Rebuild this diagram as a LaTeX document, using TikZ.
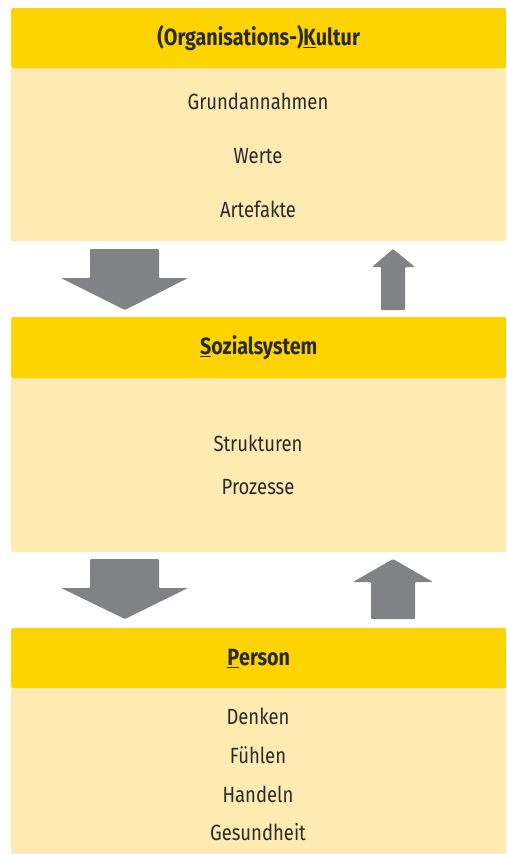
\documentclass[tikz,border=0pt]{standalone}
\usepackage{fontspec}
\setmainfont{Fira Sans}[FakeStretch=0.84]
\usepackage{xcolor}

\definecolor{headyellow}{HTML}{FDD400}
\definecolor{bodyyellow}{HTML}{FFEBB2}
\definecolor{arrowgray}{HTML}{808285}
\definecolor{textdark}{HTML}{2A2A2A}

\tikzset{
  head/.style={fill=headyellow, rounded corners=1.5pt, anchor=north west,
    minimum width=495pt, minimum height=60pt, inner sep=0pt,
    font=\fontsize{23.5}{27}\selectfont\bfseries, text=textdark},
  panel/.style={fill=bodyyellow, rounded corners=1.5pt, anchor=north west,
    minimum width=495pt, inner sep=0pt},
  item/.style={font=\fontsize{22}{26}\selectfont, text=textdark},
  blockarrow/.style={fill=arrowgray, rounded corners=1pt}
}

\begin{document}
\begin{tikzpicture}[x=1pt,y=-1pt]
  \useasboundingbox (0,0) rectangle (506,854);

  % Kultur
  \node[panel, minimum height=173pt] (kulturbody) at (11,68) {};
  \node[head] (kultur) at (11,8) {(Organisations-)\underline{K}ultur};
  \node[item] (grund) at (258,101) {Grundannahmen};
  \node[item] (werte) at (258,156) {Werte};
  \node[item] (arte) at (258,209) {Artefakte};

  % Sozialsystem
  \node[panel, minimum height=174pt] (sozialbody) at (11,378) {};
  \node[head, minimum height=61pt] (sozial) at (11,317) {\underline{S}ozialsystem};
  \node[item] (strukt) at (258,443) {Strukturen};
  \node[item] (proz) at (258,487) {Prozesse};

  % Person
  \node[panel, minimum height=166pt] (personbody) at (11,688) {};
  \node[head] (person) at (11,628) {\underline{P}erson};
  \node[item] (denken) at (258,716) {Denken};
  \node[item] (fuehlen) at (258,755) {Fühlen};
  \node[item] (handeln) at (258,794) {Handeln};
  \node[item] (gesund) at (258,832) {Gesundheit};

  % Pfeile
  \fill[blockarrow] (90,249) -- (159,249) -- (159,278) -- (188,278) -- (125,310)
    -- (61,278) -- (90,278) -- cycle;
  \fill[blockarrow] (381,310) -- (381,267) -- (372,267) -- (393,249) -- (415,267)
    -- (405,267) -- (405,310) -- cycle;
  \fill[blockarrow] (90,559) -- (159,559) -- (159,588) -- (188,588) -- (125,619)
    -- (61,588) -- (90,588) -- cycle;
  \fill[blockarrow] (371,619) -- (371,582) -- (353,582) -- (393,559) -- (433,582)
    -- (415,582) -- (415,619) -- cycle;
\end{tikzpicture}
\end{document}
